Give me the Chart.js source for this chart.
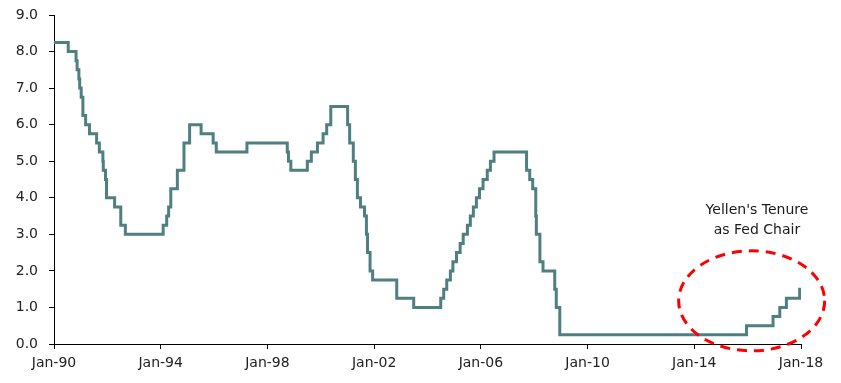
<!DOCTYPE html>
<html>
<head>
<meta charset="utf-8">
<title>Fed Funds Target Rate</title>
<script src="https://cdn.jsdelivr.net/npm/chart.js@4/dist/chart.umd.min.js"></script>
<style>
  html, body { margin: 0; padding: 0; background: #fff; }
  #chart { display: block; }
</style>
</head>
<body>
<canvas id="chart" width="841" height="383"></canvas>
<script>
// Fed funds target rate: date of each change and the new level (%)
const rateDates = [
  "1990-01-01", "1990-07-13", "1990-10-29", "1990-11-13", "1990-12-07", "1990-12-18",
  "1991-01-08", "1991-02-01", "1991-03-08", "1991-04-30", "1991-08-06", "1991-09-13",
  "1991-10-31", "1991-11-06", "1991-12-06", "1991-12-20",
  "1992-04-09", "1992-07-02", "1992-09-04",
  "1994-02-04", "1994-03-22", "1994-04-18", "1994-05-17", "1994-08-16", "1994-11-15",
  "1995-02-01", "1995-07-06", "1995-12-19", "1996-01-31", "1997-03-25",
  "1998-09-29", "1998-10-15", "1998-11-17",
  "1999-06-30", "1999-08-24", "1999-11-16",
  "2000-02-02", "2000-03-21", "2000-05-16",
  "2001-01-03", "2001-01-31", "2001-03-20", "2001-04-18", "2001-05-15", "2001-06-27",
  "2001-08-21", "2001-09-17", "2001-10-02", "2001-11-06", "2001-12-11",
  "2002-11-06", "2003-06-25",
  "2004-06-30", "2004-08-10", "2004-09-21", "2004-11-10", "2004-12-14",
  "2005-02-02", "2005-03-22", "2005-05-03", "2005-06-30", "2005-08-09", "2005-09-20",
  "2005-11-01", "2005-12-13",
  "2006-01-31", "2006-03-28", "2006-05-10", "2006-06-29",
  "2007-09-18", "2007-10-31", "2007-12-11",
  "2008-01-22", "2008-01-30", "2008-03-18", "2008-04-30", "2008-10-08", "2008-10-29",
  "2008-12-16",
  "2015-12-16", "2016-12-14", "2017-03-15", "2017-06-14", "2017-12-13", "2018-01-01"
];
const rateValues = [
  8.25, 8.00, 7.75, 7.50, 7.25, 7.00,
  6.75, 6.25, 6.00, 5.75, 5.50, 5.25,
  5.00, 4.75, 4.50, 4.00,
  3.75, 3.25, 3.00,
  3.25, 3.50, 3.75, 4.25, 4.75, 5.50,
  6.00, 5.75, 5.50, 5.25, 5.50,
  5.25, 5.00, 4.75,
  5.00, 5.25, 5.50,
  5.75, 6.00, 6.50,
  6.00, 5.50, 5.00, 4.50, 4.00, 3.75,
  3.50, 3.00, 2.50, 2.00, 1.75,
  1.25, 1.00,
  1.25, 1.50, 1.75, 2.00, 2.25,
  2.50, 2.75, 3.00, 3.25, 3.50, 3.75,
  4.00, 4.25,
  4.50, 4.75, 5.00, 5.25,
  4.75, 4.50, 4.25,
  3.50, 3.00, 2.25, 2.00, 1.50, 1.00,
  0.25,
  0.50, 0.75, 1.00, 1.25, 1.50, 1.50
];
const xTickYears = [1990, 1994, 1998, 2002, 2006, 2010, 2014, 2018];
const noteLines = ["Yellen's Tenure", "as Fed Chair"];

const toYear = (s) => {
  const [y, m, d] = s.split("-").map(Number);
  return y + (m - 1) / 12 + (d - 1) / 365;
};

const points = rateDates.map((d, i) => ({ x: toYear(d), y: rateValues[i] }));

const fontFamily = "'DejaVu Sans', sans-serif";

// red dashed ellipse and caption for Yellen period
const yellenNote = {
  id: "yellenNote",
  afterDatasetsDraw(chart) {
    const { ctx, scales } = chart;
    const cx = scales.x.getPixelForValue(2016.15);
    const cy = scales.y.getPixelForValue(1.18);
    ctx.save();
    ctx.strokeStyle = "#ff0000";
    ctx.lineWidth = 3;
    ctx.setLineDash([10, 7]);
    ctx.beginPath();
    ctx.ellipse(cx, cy, 73, 50, 0, 0, Math.PI * 2);
    ctx.stroke();
    ctx.setLineDash([]);
    ctx.fillStyle = "#1a1a1a";
    ctx.font = "14px " + fontFamily;
    ctx.textAlign = "center";
    ctx.textBaseline = "middle";
    const tx = scales.x.getPixelForValue(2016.35);
    noteLines.forEach((line, i) => {
      ctx.fillText(line, tx, scales.y.getPixelForValue(3.65) + i * 20);
    });
    ctx.restore();
  },
};

new Chart(document.getElementById("chart"), {
  type: "line",
  data: {
    datasets: [
      {
        label: "Fed funds target rate",
        data: points,
        borderColor: "#4f7f80",
        borderWidth: 3,
        stepped: "before",
        pointRadius: 0,
        fill: false,
      },
    ],
  },
  options: {
    responsive: false,
    animation: false,
    layout: { padding: { top: 15, right: 40, left: 0, bottom: 0 } },
    plugins: {
      legend: { display: false },
      tooltip: { enabled: false },
    },
    scales: {
      x: {
        type: "linear",
        min: 1990,
        max: 2018,
        afterBuildTicks: (scale) => {
          scale.ticks = xTickYears.map((v) => ({ value: v }));
        },
        afterFit: (scale) => {
          scale.height = 39;
        },
        ticks: {
          autoSkip: false,
          maxRotation: 0,
          padding: 6,
          color: "#222",
          font: { family: fontFamily, size: 14 },
          callback: (v) => "Jan-" + String(v).slice(2),
        },
        grid: { drawOnChartArea: false, tickLength: 5, color: "#000" },
        border: { color: "#000", width: 1 },
      },
      y: {
        min: 0,
        max: 9,
        afterFit: (scale) => {
          scale.width = 54;
          scale.paddingTop = 0;
          scale.paddingBottom = 0;
        },
        ticks: {
          stepSize: 1,
          padding: 11,
          color: "#222",
          font: { family: fontFamily, size: 14 },
          callback: (v) => Number(v).toFixed(1),
        },
        grid: { drawOnChartArea: false, tickLength: 5, color: "#000" },
        border: { color: "#000", width: 1 },
      },
    },
  },
  plugins: [yellenNote],
});
</script>
</body>
</html>
